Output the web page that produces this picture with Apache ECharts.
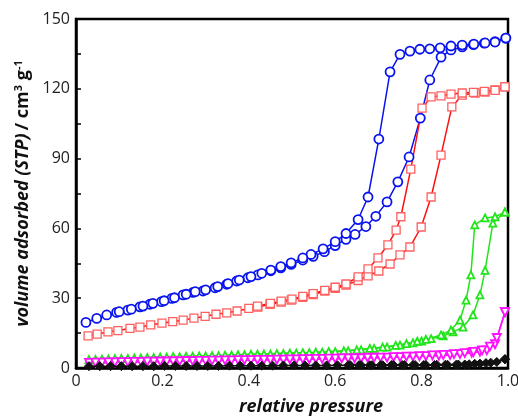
<!DOCTYPE html>
<html>
<head>
<meta charset="utf-8">
<script src="https://cdn.jsdelivr.net/npm/echarts@6/dist/echarts.min.js"></script>
<style>
  html, body { margin: 0; padding: 0; background: #fff; }
  #chart { width: 518px; height: 416px; }
</style>
</head>
<body>
<div id="chart"></div>
<script>
// x tick labels on the relative pressure axis
const xTicks = ['0', '0.2', '0.4', '0.6', '0.8', '1.0'];

// blue circles
const blueAds = [[0.023,19.6],[0.048,21.3],[0.071,22.8],[0.094,23.9],[0.12,24.9],[0.148,26.3],[0.171,27.4],[0.198,28.5],[0.222,29.9],[0.248,31.4],[0.271,32.5],[0.294,33.1],[0.322,34.5],[0.349,36.0],[0.372,37.4],[0.398,38.8],[0.421,40.0],[0.451,41.8],[0.474,43.0],[0.498,44.5],[0.525,46.4],[0.549,48.0],[0.575,50.0],[0.600,52.6],[0.625,55.3],[0.646,57.4],[0.671,60.8],[0.694,65.2],[0.720,71.4],[0.745,80.0],[0.771,90.7],[0.797,107.4],[0.819,123.8],[0.845,133.6],[0.868,136.7],[0.894,138.0],[0.920,139.0],[0.945,139.6],[0.970,140.3],[0.995,141.8]];
const blueDes = [[0.995,141.8],[0.970,140.1],[0.947,139.7],[0.921,139.2],[0.894,138.8],[0.868,138.4],[0.843,137.6],[0.819,137.2],[0.796,137.0],[0.773,136.2],[0.750,134.8],[0.727,127.3],[0.701,98.4],[0.676,73.5],[0.653,63.8],[0.625,57.8],[0.600,54.3],[0.572,51.2],[0.544,48.8],[0.525,47.3],[0.498,45.2],[0.474,43.6],[0.451,42.1],[0.43,40.7],[0.405,39.3],[0.378,37.8],[0.352,36.3],[0.328,35.0],[0.30,33.6],[0.276,32.8],[0.255,31.7],[0.228,30.2],[0.204,28.9],[0.178,27.8],[0.155,26.6],[0.128,25.3],[0.10,24.2]];

// red squares
const redAds = [[0.028,13.8],[0.049,14.6],[0.074,15.5],[0.097,16.1],[0.125,17.0],[0.148,17.6],[0.173,18.5],[0.199,19.3],[0.224,19.9],[0.248,20.6],[0.273,21.4],[0.299,22.2],[0.324,23.1],[0.349,23.7],[0.373,24.5],[0.40,25.6],[0.421,26.2],[0.449,27.4],[0.475,28.3],[0.498,29.2],[0.525,30.4],[0.549,31.6],[0.576,33.0],[0.60,34.2],[0.625,35.6],[0.653,37.6],[0.676,39.6],[0.701,41.7],[0.727,44.7],[0.75,48.6],[0.773,52.0],[0.799,60.6],[0.822,73.5],[0.845,91.5],[0.870,112.2],[0.894,117.3],[0.924,118.2],[0.947,118.6],[0.97,119.5],[0.993,120.8]];
const redDes = [[0.993,120.8],[0.97,119.3],[0.945,118.9],[0.92,118.5],[0.894,118.2],[0.868,117.7],[0.845,117.0],[0.822,116.5],[0.801,111.7],[0.775,85.5],[0.752,65.0],[0.741,59.3],[0.722,52.9],[0.699,47.3],[0.676,42.6],[0.653,39.2],[0.625,36.1],[0.60,34.7],[0.576,33.4],[0.549,32.0],[0.525,30.8],[0.50,29.6],[0.475,28.7],[0.45,27.8],[0.42,26.6]];

// green up triangles
const greenAds = [[0.03,3.6],[0.06,3.8],[0.09,4.0],[0.12,4.1],[0.15,4.3],[0.18,4.5],[0.21,4.7],[0.24,4.8],[0.27,5.0],[0.30,5.1],[0.33,5.3],[0.36,5.5],[0.39,5.7],[0.42,5.9],[0.45,6.0],[0.48,6.2],[0.51,6.4],[0.54,6.6],[0.57,6.8],[0.60,7.0],[0.63,7.4],[0.66,7.8],[0.69,8.4],[0.72,9.0],[0.75,9.8],[0.78,10.8],[0.80,11.6],[0.822,12.6],[0.85,13.8],[0.873,15.5],[0.896,17.6],[0.919,22.8],[0.935,31.4],[0.947,42.0],[0.965,62.3],[0.993,67.0]];
const greenDes = [[0.993,67.0],[0.970,65.0],[0.947,64.5],[0.923,61.5],[0.914,40.0],[0.903,29.2],[0.889,20.6],[0.868,16.3],[0.845,14.2],[0.81,12.3],[0.79,11.5],[0.765,10.5],[0.74,9.7],[0.71,9.0],[0.68,8.4],[0.65,7.8],[0.62,7.4],[0.585,7.1],[0.555,6.8],[0.525,6.6],[0.495,6.4],[0.465,6.2],[0.435,6.0],[0.405,5.9],[0.375,5.7],[0.345,5.5],[0.315,5.3],[0.285,5.2],[0.255,5.0],[0.225,4.9],[0.195,4.7],[0.165,4.5],[0.135,4.3],[0.105,4.1],[0.075,3.9],[0.045,3.7]];

// magenta down triangles
const magentaAds = [[0.03,2.2],[0.06,2.3],[0.09,2.4],[0.12,2.5],[0.15,2.6],[0.18,2.7],[0.21,2.8],[0.24,2.9],[0.27,3.0],[0.30,3.1],[0.33,3.2],[0.36,3.3],[0.39,3.4],[0.42,3.5],[0.45,3.5],[0.48,3.6],[0.51,3.7],[0.54,3.8],[0.57,3.9],[0.60,4.0],[0.63,4.1],[0.66,4.2],[0.69,4.4],[0.72,4.5],[0.75,4.7],[0.78,4.9],[0.81,5.1],[0.84,5.3],[0.866,5.6],[0.889,6.0],[0.916,6.6],[0.935,7.0],[0.951,7.6],[0.970,10.2],[0.993,24.0]];
const magentaDes = [[0.993,24.0],[0.974,12.9],[0.958,9.2],[0.94,7.6],[0.92,6.9],[0.90,6.4],[0.875,6.0],[0.85,5.6],[0.825,5.4],[0.795,5.1],[0.765,4.9],[0.735,4.7],[0.705,4.5],[0.675,4.4],[0.645,4.2],[0.615,4.1],[0.585,4.0],[0.555,3.9],[0.525,3.8],[0.495,3.7],[0.465,3.6],[0.435,3.5],[0.405,3.4],[0.375,3.4],[0.345,3.3],[0.315,3.2],[0.285,3.1],[0.255,3.0],[0.225,2.9],[0.195,2.8],[0.165,2.7],[0.135,2.6],[0.105,2.5],[0.075,2.4],[0.045,2.3]];

// black diamonds
const blackAds = [[0.03,0.8],[0.055,0.8],[0.08,0.8],[0.105,0.8],[0.13,0.8],[0.155,0.8],[0.18,0.8],[0.205,0.9],[0.23,0.9],[0.255,0.9],[0.28,0.9],[0.305,0.9],[0.33,0.9],[0.355,1.0],[0.38,1.0],[0.405,1.0],[0.43,1.0],[0.455,1.0],[0.48,1.1],[0.505,1.1],[0.53,1.1],[0.555,1.1],[0.58,1.1],[0.605,1.2],[0.63,1.2],[0.655,1.2],[0.68,1.2],[0.705,1.2],[0.73,1.3],[0.755,1.3],[0.78,1.3],[0.805,1.3],[0.83,1.3],[0.855,1.4],[0.88,1.4],[0.90,1.5],[0.923,1.8],[0.949,2.1],[0.974,2.6],[0.993,3.8]];
const blackDes = [[0.993,3.8],[0.96,2.3],[0.935,1.9],[0.91,1.6],[0.885,1.5],[0.86,1.4],[0.835,1.4],[0.81,1.3],[0.785,1.3],[0.76,1.3],[0.735,1.3],[0.71,1.2],[0.685,1.2],[0.66,1.2],[0.635,1.2]];

const chart = echarts.init(document.getElementById('chart'));

const font = '"Open Sans", "DejaVu Sans", sans-serif';

const mk = (data, color, symbol, size, extra) => Object.assign({
  type: 'line',
  data: data,
  symbol: symbol,
  symbolSize: size,
  showAllSymbol: true,
  animation: false,
  z: 5,
  lineStyle: { color: color, width: 1.5 },
  itemStyle: { color: '#fff', borderColor: color, borderWidth: 1.8 }
}, extra || {});

const option = {
  animation: false,
  grid: {
    left: 76, right: 10, top: 19, bottom: 48,
    outerBoundsMode: 'none',
    containLabel: false,
    show: true, borderColor: '#000', borderWidth: 2.5
  },
  xAxis: {
    type: 'value', min: 0, max: 1, interval: 0.2,
    axisLine: { show: true, lineStyle: { color: '#000', width: 2.5 } },
    axisTick: { show: false },
    splitLine: { show: false },
    axisLabel: {
      color: '#222', fontSize: 16, fontFamily: font, margin: 5,
      formatter: (v) => xTicks[Math.round(v / 0.2)]
    },
    name: 'relative pressure',
    nameLocation: 'middle',
    nameGap: 30,
    nameTextStyle: {
      color: '#111', fontSize: 18, fontWeight: 'bold', fontStyle: 'italic',
      fontFamily: font, padding: [0, 0, 0, 38]
    }
  },
  yAxis: {
    type: 'value', min: 0, max: 150, interval: 30,
    axisLine: { show: true, lineStyle: { color: '#000', width: 2.5 } },
    axisTick: { show: true, inside: true, length: 5, lineStyle: { color: '#000', width: 1.5 } },
    minorTick: { show: true, splitNumber: 2, length: 5, lineStyle: { color: '#000', width: 1.5 } },
    splitLine: { show: false },
    axisLabel: { color: '#222', fontSize: 16, fontFamily: font, margin: 6 },
    name: '{i|volume adsorbed (STP)} {b|/ cm}{s|3}{b| g}{s|-1}',
    nameLocation: 'middle',
    nameRotate: 90,
    nameGap: 42,
    nameTextStyle: {
      color: '#111', fontFamily: font,
      rich: {
        i: { fontSize: 18, fontWeight: 'bold', fontStyle: 'italic', fontFamily: font, color: '#111' },
        b: { fontSize: 18, fontWeight: 'bold', fontFamily: font, color: '#111' },
        s: { fontSize: 11, fontWeight: 'bold', fontFamily: font, color: '#111', verticalAlign: 'top', padding: [0, 0, 8, 0] }
      }
    }
  },
  series: [
    mk(blueAds, '#0a14ee', 'circle', 9),
    mk(blueDes, '#0a14ee', 'circle', 9),
    mk(redAds, '#ff1010', 'rect', 8, { itemStyle: { color: '#fff', borderColor: '#ff6060', borderWidth: 1.3 } }),
    mk(redDes, '#ff1010', 'rect', 8, { itemStyle: { color: '#fff', borderColor: '#ff6060', borderWidth: 1.3 } }),
    mk(greenAds, '#22e41a', 'triangle', 7),
    mk(greenDes, '#22e41a', 'triangle', 7),
    mk(magentaAds, '#ff10ff', 'triangle', 8, { symbolRotate: 180 }),
    mk(magentaDes, '#ff10ff', 'triangle', 8, { symbolRotate: 180 }),
    mk(blackAds, '#111', 'diamond', 9, { z: 6, itemStyle: { color: '#111', borderColor: '#111', borderWidth: 1 } }),
    mk(blackDes, '#111', 'diamond', 9, { z: 6, itemStyle: { color: '#111', borderColor: '#111', borderWidth: 1 } })
  ]
};

chart.setOption(option);
</script>
</body>
</html>
